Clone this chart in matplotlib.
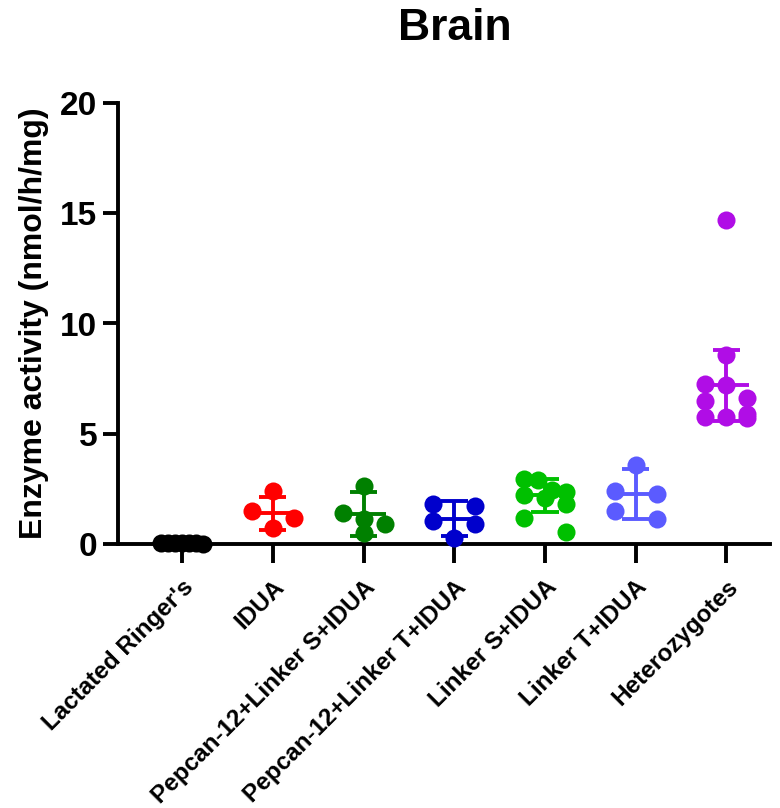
import numpy as np
import matplotlib
matplotlib.use("Agg")
import matplotlib.pyplot as plt
from matplotlib.transforms import ScaledTranslation

plt.rcParams['font.family'] = ['Liberation Sans', 'DejaVu Sans']
plt.rcParams['font.weight'] = 'bold'

# ---- data -------------------------------------------------------------
groups = ["Lactated Ringer's", "IDUA", "Pepcan-12+Linker S+IDUA",
          "Pepcan-12+Linker T+IDUA", "Linker S+IDUA", "Linker T+IDUA",
          "Heterozygotes"]

lactated_ringers = [0.02, 0.03, 0.05, 0.04, 0.06, 0.03, 0.05]
idua = [2.4, 1.5, 1.2, 0.73]
pepcan_linker_s = [2.64, 1.41, 1.14, 0.91, 0.5]
pepcan_linker_t = [1.82, 1.73, 1.05, 0.91, 0.27]
linker_s = [2.95, 2.9, 2.45, 2.35, 2.2, 2.1, 1.8, 1.2, 0.55]
linker_t = [3.6, 2.4, 2.27, 1.5, 1.14]
heterozygotes = [14.7, 8.55, 7.27, 7.23, 6.6, 6.5, 5.9, 5.75, 5.75, 5.7]

values = [lactated_ringers, idua, pepcan_linker_s, pepcan_linker_t,
          linker_s, linker_t, heterozygotes]

group_means = [0.04, 1.4, 1.36, 1.15, 2.2, 2.27, 7.2]
group_sds = [0.02, 0.75, 1.0, 0.8, 0.75, 1.15, 1.6]

colors = ["#000000", "#FF0000", "#008000", "#0000CC", "#00C000",
          "#5B5BFF", "#B00DE6"]

# ---- figure -----------------------------------------------------------
W, H = 780, 808
fig = plt.figure(figsize=(W / 100, H / 100), dpi=100)
ax_left, ax_right, ax_top, ax_bot = 118, 770, 103, 544
ax = fig.add_axes([ax_left / W, 1 - ax_bot / H,
                   (ax_right - ax_left) / W, (ax_bot - ax_top) / H])

xlim = (-0.706, 6.48)
ylim = (0, 20)
ax.set_xlim(*xlim)
ax.set_ylim(*ylim)

px_per_x = (ax_right - ax_left) / (xlim[1] - xlim[0])
px_per_y = (ax_bot - ax_top) / (ylim[1] - ylim[0])


def row_offsets(vals, row_height=15.0, half_width=21.0):
    """Scatter layout: points grouped into rows, each row spread evenly."""
    ys = np.asarray(vals, float) * px_per_y
    order = list(np.argsort(-ys, kind='stable'))
    xs = np.zeros(len(ys))
    rows, cur = [], []
    for i in order:
        if cur and ys[cur[0]] - ys[i] > row_height:
            rows.append(cur)
            cur = []
        cur.append(i)
    if cur:
        rows.append(cur)
    for r in rows:
        n = len(r)
        offs = [0.0] if n == 1 else np.linspace(-half_width, half_width, n)
        for i, o in zip(r, offs):
            xs[i] = o
    return xs / px_per_x


for k, (vals, col) in enumerate(zip(values, colors)):
    offs = row_offsets(vals)
    ax.plot(k + offs, vals, 'o', ms=13, color=col, mec='none',
            zorder=3, clip_on=False)
    m, s = group_means[k], group_sds[k]
    lw = 2.8
    ax.plot([k, k], [m - s, m + s], color=col, lw=lw, zorder=4,
            solid_capstyle='butt')
    ax.plot([k - 0.25, k + 0.25], [m, m], color=col, lw=lw, zorder=4,
            solid_capstyle='butt')
    for e in (m - s, m + s):
        ax.plot([k - 0.15, k + 0.15], [e, e], color=col, lw=lw, zorder=4,
                solid_capstyle='butt')

# ---- axes styling -----------------------------------------------------
for side in ('top', 'right'):
    ax.spines[side].set_visible(False)
for side in ('left', 'bottom'):
    ax.spines[side].set_linewidth(2.8)
    ax.spines[side].set_capstyle('projecting')

ax.set_yticks([0, 5, 10, 15, 20])
ax.tick_params(axis='y', length=11, width=2.8, labelsize=24, pad=4)
ax.tick_params(axis='x', length=14, width=2.8, labelsize=17.5, pad=14)
ax.set_xticks(range(len(groups)))
ax.set_xticklabels(groups, rotation=45, ha='right', va='center',
                   rotation_mode='anchor', fontweight='bold')
shift = ScaledTranslation(8 / 100, -1 / 100, fig.dpi_scale_trans)
for t in ax.get_xticklabels():
    t.set_transform(t.get_transform() + shift)
for t in ax.get_yticklabels():
    t.set_fontweight('bold')

ax.set_ylabel("Enzyme activity (nmol/h/mg)", fontsize=23,
              fontweight='bold', labelpad=8)
fig.text(455 / W, 1 - 29 / H, "Brain", ha='center', va='center',
         fontsize=32, fontweight='bold')

fig.savefig("out.png", dpi=100)
